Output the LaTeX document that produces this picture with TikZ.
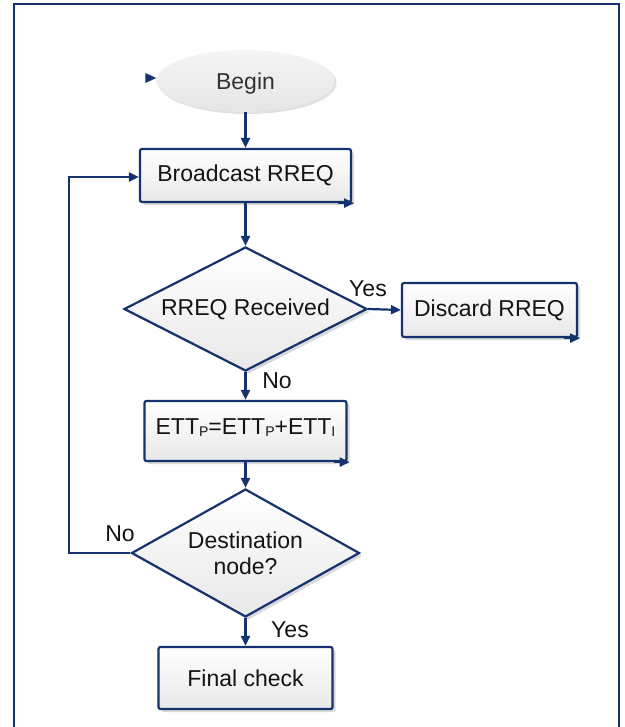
\documentclass[tikz,border=0pt]{standalone}
\usepackage{fontspec}
\setmainfont{Liberation Sans}
\usetikzlibrary{shapes.geometric,arrows.meta,shadows}
\definecolor{navy}{RGB}{22,50,110}
\definecolor{txt}{RGB}{20,20,20}
\tikzset{
  every node/.style={font=\fontsize{23}{27}\selectfont, text=txt},
  boxfill/.style={top color=white, bottom color=black!9, draw=navy, line width=2.2pt,
    drop shadow={shadow xshift=3pt, shadow yshift=-3pt, fill=black!15, opacity=1}},
  procbox/.style={boxfill, rectangle, rounded corners=2pt, inner sep=0pt},
  decision/.style={boxfill, diamond, inner sep=0pt},
  terminal/.style={ellipse, top color=black!4, bottom color=black!10, draw=none,
    drop shadow={shadow xshift=2pt, shadow yshift=-2pt, fill=black!12, opacity=1}},
  arr/.style={draw=navy, line width=2.2pt, -{Triangle[length=10pt,width=9pt]}},
  cornertip/.style={draw=navy, line width=2.2pt, -{Triangle[length=10pt,width=9pt]}},
  lbl/.style={inner sep=0pt, fill=white},
}
\newcommand{\sm}[1]{\raisebox{-1.5pt}{\fontsize{14}{14}\selectfont #1}}
\begin{document}
\begin{tikzpicture}[x=1pt, y=-1pt]
\useasboundingbox (0,0) rectangle (624,727);
% outer frame
\draw[navy, line width=1.8pt] (14,760) -- (14,4) -- (619,4) -- (619,760);

% shapes
\node[terminal, minimum width=178pt, minimum height=62pt,
  label={[text=black!80, yshift=-3pt]center:Begin}] (begin) at (245.5,81) {};
\node[procbox, minimum width=211pt, minimum height=53pt] (bcast) at (245.5,175.5) {Broadcast RREQ};
\node[decision, minimum width=243pt, minimum height=124pt,
  label={[text=txt]center:RREQ Received}] (recv) at (245.5,309) {};
\node[procbox, minimum width=175pt, minimum height=54pt] (discard) at (489.5,310) {Discard RREQ};
\node[procbox, minimum width=202pt, minimum height=60pt] (ett) at (245.5,431)
  {\raisebox{8pt}{ETT\sm{P}=ETT\sm{P}+ETT\sm{I}}};
\node[decision, minimum width=228pt, minimum height=128pt,
  label={[align=center, text=txt]center:Destination\\[-1pt]node?}] (dest) at (245.5,553) {};
\node[procbox, minimum width=174pt, minimum height=62pt] (final) at (245.5,678) {Final check};

% small tips on the shapes' edges
\fill[navy] ([yshift=3pt]begin.west) -- ([xshift=-11pt,yshift=8pt]begin.west)
  -- ([xshift=-11pt,yshift=-2pt]begin.west) -- cycle;
\foreach \n in {bcast,discard,ett}
  \draw[cornertip] ([xshift=-14pt]\n.south east) -- ([xshift=2pt]\n.south east);

% connectors
\draw[arr] (begin.south) -- (bcast.north);
\draw[arr] (bcast.south) -- (recv.north);
\draw[arr] (recv.east) -- (discard.west);
\draw[arr] (recv.south) -- (ett.north);
\draw[arr] (ett.south) -- (dest.north);
\draw[arr] (dest.south) -- (final.north);
\coordinate (loopc) at (69,177);
\draw[arr] (dest.west) -| (loopc) -- (bcast.west |- loopc);

% branch labels
\node[lbl] (yes1) at (368,289) {Yes};
\node[lbl] (no1) at (277,381) {No};
\node[lbl] (no2) at (120,534) {No};
\node[lbl] (yes2) at (290,630) {Yes};
\end{tikzpicture}
\end{document}
